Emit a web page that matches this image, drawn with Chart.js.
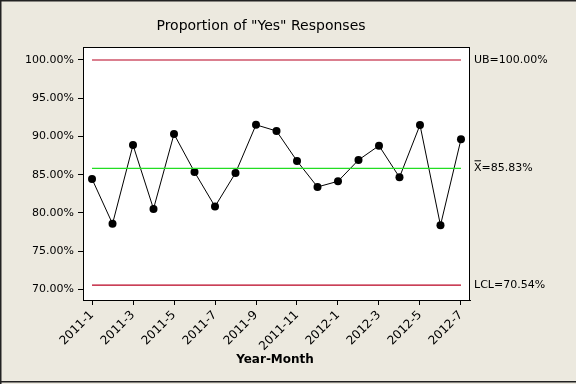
<!DOCTYPE html>
<html>
<head>
<meta charset="utf-8">
<script src="https://cdn.jsdelivr.net/npm/chart.js@4.4.1/dist/chart.umd.min.js"></script>
<style>
html,body{margin:0;padding:0;background:#ECE9DF;}
#wrap{width:576px;height:384px;position:relative;}
</style>
</head>
<body>
<div id="wrap"><canvas id="c" width="576" height="384"></canvas></div>
<script>
const months = ["2011-1","2011-2","2011-3","2011-4","2011-5","2011-6","2011-7","2011-8","2011-9","2011-10","2011-11","2011-12","2012-1","2012-2","2012-3","2012-4","2012-5","2012-6","2012-7"];
const proportions = [84.44,78.57,88.87,80.52,90.31,85.35,80.83,85.22,91.52,90.71,86.79,83.39,84.13,86.92,88.79,84.65,91.50,78.37,89.62];
const yTicks = [70,75,80,85,90,95,100];
const UB = 100.00;
const CENTER = 85.83;
const LCL = 70.54;
const titleText = 'Proportion of "Yes" Responses';
const xTitle = 'Year-Month';

const FONT = '"DejaVu Sans", Verdana, sans-serif';
const lastIdx = months.length - 1;

const bgPlugin = {
  id: 'bg',
  beforeDraw(chart) {
    const ctx = chart.ctx, a = chart.chartArea;
    ctx.save();
    ctx.fillStyle = '#ECE9DF';
    ctx.fillRect(0, 0, chart.width, chart.height);
    ctx.fillStyle = '#222';
    ctx.fillRect(0, 0, chart.width, 1.5);
    ctx.fillRect(0, 0, 1.5, chart.height);
    ctx.fillRect(0, 381, chart.width, 1.5);
    ctx.fillStyle = '#ffffff';
    ctx.fillRect(a.left, a.top, a.right - a.left, a.bottom - a.top);
    ctx.restore();
  },
  afterDraw(chart) {
    const ctx = chart.ctx, a = chart.chartArea, y = chart.scales.y;
    ctx.save();
    ctx.strokeStyle = '#000';
    ctx.lineWidth = 1;
    ctx.strokeRect(a.left + 0.5, a.top + 0.5, a.right - a.left - 1, a.bottom - a.top);
    ctx.fillStyle = '#000';
    ctx.font = '14px ' + FONT;
    ctx.textAlign = 'center';
    ctx.textBaseline = 'middle';
    ctx.fillText(titleText, 261, 26);
    ctx.font = 'bold 12px ' + FONT;
    ctx.fillText(xTitle, 275, 360);
    ctx.font = '11px ' + FONT;
    ctx.textAlign = 'left';
    const lx = a.right + 4;
    ctx.fillText('UB=' + UB.toFixed(2) + '%', lx, y.getPixelForValue(UB));
    const cy = y.getPixelForValue(CENTER);
    ctx.fillText('X=' + CENTER.toFixed(2) + '%', lx, cy);
    const xw = ctx.measureText('X').width;
    ctx.beginPath();
    ctx.moveTo(lx + 0.5, cy - 7.5);
    ctx.lineTo(lx + xw - 0.5, cy - 7.5);
    ctx.stroke();
    ctx.fillText('LCL=' + LCL.toFixed(2) + '%', lx, y.getPixelForValue(LCL));
    ctx.restore();
  }
};

new Chart(document.getElementById('c'), {
  type: 'line',
  data: {
    datasets: [
      { data: [{x:0,y:UB},{x:lastIdx,y:UB}], borderColor:'#B80020', borderWidth:1.2, pointRadius:0 },
      { data: [{x:0,y:LCL},{x:lastIdx,y:LCL}], borderColor:'#B80020', borderWidth:1.2, pointRadius:0 },
      { data: [{x:0,y:CENTER},{x:lastIdx,y:CENTER}], borderColor:'#22DD22', borderWidth:1.2, pointRadius:0 },
      { data: proportions.map((v,i)=>({x:i,y:v})), borderColor:'#000', borderWidth:1,
        pointRadius:4, pointBackgroundColor:'#000', pointBorderColor:'#000', pointBorderWidth:0, tension:0 }
    ]
  },
  options: {
    responsive: false,
    animation: false,
    layout: { padding: { left: 0, right: 106, top: 47, bottom: 0 } },
    plugins: { legend: { display:false }, tooltip: { enabled:false }, title: { display:false } },
    scales: {
      x: {
        type: 'linear',
        min: -0.44, max: lastIdx + 0.44,
        afterBuildTicks(s) { s.ticks = months.map((m,i)=>({value:i})).filter(t=>t.value % 2 === 0); },
        afterFit(s) { s.height = 84; },
        ticks: {
          callback: (v) => months[v],
          minRotation: 45, maxRotation: 45, autoSkip: false,
          color: '#000', font: { family: FONT, size: 12 }, padding: 3
        },
        grid: { drawOnChartArea: false, color: '#000', tickLength: 5, tickColor:'#000' },
        border: { display: true, color: '#000' }
      },
      y: {
        min: 68.60, max: 101.70,
        afterBuildTicks(s) { s.ticks = yTicks.map(v=>({value:v})); },
        afterFit(s) { s.width = 83; },
        ticks: {
          callback: (v) => v.toFixed(2) + '%',
          color: '#000', font: { family: FONT, size: 11 }, padding: 4
        },
        grid: { drawOnChartArea: false, color: '#000', tickLength: 5, tickColor:'#000' },
        border: { display: true, color: '#000' }
      }
    }
  },
  plugins: [bgPlugin]
});
</script>
</body>
</html>
